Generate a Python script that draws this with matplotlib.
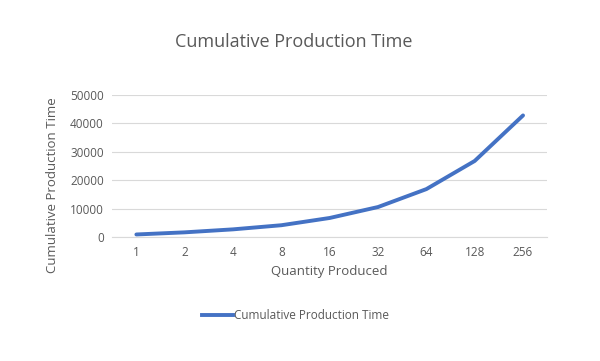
import matplotlib.pyplot as plt
from matplotlib.lines import Line2D

plt.rcParams['font.family'] = ['Open Sans', 'DejaVu Sans']

quantities = ["1", "2", "4", "8", "16", "32", "64", "128", "256"]
cum_time = [950, 1700, 2750, 4200, 6750, 10600, 16900, 26800, 42800]

GREY = '#595959'
BLUE = '#4472C4'

fig = plt.figure(figsize=(6.0, 3.61), dpi=100)
ax = fig.add_axes([0.187, 0.343, 0.725, 0.394])

x = list(range(len(quantities)))
ax.plot(x, cum_time, color=BLUE, linewidth=2.8, solid_capstyle='round')

ax.set_xlim(-0.5, len(quantities) - 0.5)
ax.set_ylim(0, 50000)
ax.set_yticks(range(0, 50001, 10000))
ax.set_xticks(x)
ax.set_xticklabels(quantities)
ax.yaxis.grid(True, color='#d9d9d9', linewidth=0.8)
ax.set_axisbelow(True)
for s in ['top', 'right', 'left']:
    ax.spines[s].set_visible(False)
ax.spines['bottom'].set_color('#d9d9d9')
ax.tick_params(length=0, colors=GREY, labelsize=8.5, pad=6)

ax.set_xlabel("Quantity Produced", color=GREY, fontsize=9.5, labelpad=5)
ax.set_ylabel("Cumulative Production Time", color=GREY, fontsize=9.5)
# excel puts the axis title a bit lower than the plot centre
ax.yaxis.set_label_coords(-0.122, 0.363)

fig.text(0.49, 0.885, "Cumulative Production Time", ha='center', va='center',
         color=GREY, fontsize=13)

handle = Line2D([], [], color=BLUE, linewidth=2.8)
fig.legend([handle], ["Cumulative Production Time"], loc='center',
           bbox_to_anchor=(0.493, 0.125), frameon=False, fontsize=8.5,
           labelcolor=GREY, handlelength=2.6, handletextpad=0.1)

plt.savefig("out.png", dpi=100)
